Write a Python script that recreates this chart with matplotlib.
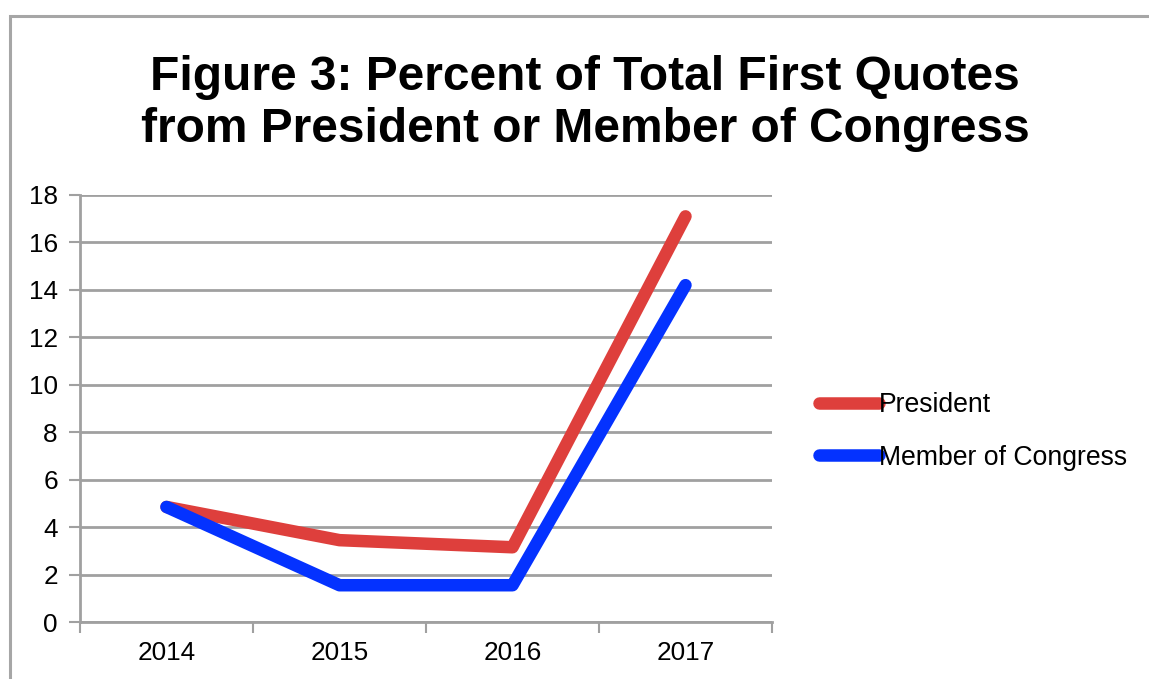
import matplotlib
matplotlib.use("Agg")
import matplotlib.pyplot as plt
from matplotlib.patches import Rectangle

years = ["2014", "2015", "2016", "2017"]
president = [4.85, 3.45, 3.15, 17.1]
congress = [4.85, 1.55, 1.55, 14.2]
yticks = [0, 2, 4, 6, 8, 10, 12, 14, 16, 18]

plt.rcParams['font.family'] = ['Liberation Sans', 'DejaVu Sans']

W, H = 1149, 679
fig = plt.figure(figsize=(W / 100, H / 100), dpi=100)
fig.patch.set_facecolor('white')

# outer frame
fig.patches.append(Rectangle((10 / W, -0.05), 1.2, 1 - 16 / H + 0.05, transform=fig.transFigure,
                             fill=False, edgecolor='#a6a6a6', linewidth=2.2))

ax = fig.add_axes([80 / W, 1 - 622 / H, (772 - 80) / W, (622 - 195) / H])
x = list(range(len(years)))
ax.plot(x, president, color='#de3f3c', linewidth=9, solid_capstyle='round',
        solid_joinstyle='round', label='President', zorder=3)
ax.plot(x, congress, color='#0432ff', linewidth=9, solid_capstyle='round',
        solid_joinstyle='round', label='Member of Congress', zorder=4)

ax.set_xlim(-0.5, len(years) - 0.5)
ax.set_ylim(0, 18)
ax.set_yticks(yticks)
ax.set_yticklabels([str(v) for v in yticks], fontsize=18.8)
ax.set_xticks(x)
ax.set_xticklabels(years, fontsize=18.8)
ax.set_xticks([i - 0.5 for i in range(len(years) + 1)], minor=True)
ax.tick_params(axis='x', which='major', length=0, pad=14)
ax.tick_params(axis='x', which='minor', length=8, width=1.5, color='#a0a0a0', direction='out')
ax.tick_params(axis='y', length=8, width=1.5, color='#a0a0a0', pad=8)

ax.grid(axis='y', color='#a0a0a0', linewidth=2)
ax.set_axisbelow(True)
for s in ['top', 'right']:
    ax.spines[s].set_visible(False)
for s in ['left', 'bottom']:
    ax.spines[s].set_color('#a0a0a0')
    ax.spines[s].set_linewidth(2)

leg = fig.legend(loc='upper left', bbox_to_anchor=(795 / W, 1 - 368 / H), frameon=False,
                 fontsize=19.2, handlelength=2.25, handletextpad=0.0, labelspacing=1.0)

fig.text(585 / W, 1 - 104 / H, "Figure 3: Percent of Total First Quotes\nfrom President or Member of Congress",
         ha='center', va='center', fontsize=34.5, fontweight='bold', linespacing=1.2)

fig.savefig('out.png', dpi=100)
